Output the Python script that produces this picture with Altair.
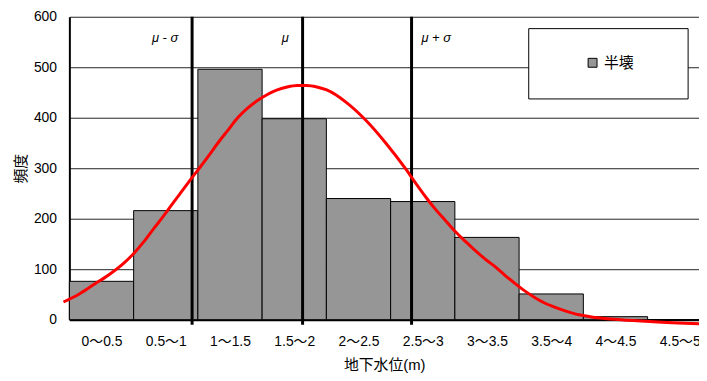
import altair as alt
import pandas as pd

# ---- data ----
bin_labels = ["0〜0.5", "0.5〜1", "1〜1.5", "1.5〜2", "2〜2.5",
              "2.5〜3", "3〜3.5", "3.5〜4", "4〜4.5", "4.5〜5"]
bin_start = [0.0, 0.5, 1.0, 1.5, 2.0, 2.5, 3.0, 3.5, 4.0, 4.5]
bin_end = [0.5, 1.0, 1.5, 2.0, 2.5, 3.0, 3.5, 4.0, 4.5, 5.0]
freq = [76, 216, 496, 398, 240, 234, 163, 51, 6, 0]

curve_x = [-0.046, 0.077, 0.193, 0.308, 0.424, 0.501, 0.578, 0.655, 0.732, 0.809,
           0.886, 0.950, 1.002, 1.079, 1.156, 1.233, 1.310, 1.387, 1.464, 1.541,
           1.618, 1.695, 1.772, 1.849, 1.926, 2.003, 2.157, 2.311, 2.465, 2.619,
           2.696, 2.773, 2.851, 2.928, 3.005, 3.082, 3.159, 3.236, 3.313, 3.390,
           3.467, 3.544, 3.621, 3.698, 3.775, 3.852, 3.929, 4.052, 4.291, 4.545,
           4.908]
curve_y = [35, 51, 70, 89, 112, 131, 154, 180, 205, 232,
           258, 280, 297, 323, 350, 375, 400, 419, 434, 446,
           455, 461, 464, 464, 461, 455, 430, 394, 349, 298,
           270, 243, 218, 196, 174, 155, 137, 120, 105, 88,
           72, 57, 44, 33, 25, 18, 12, 6, 0, -4,
           -8]

sigma_x = [0.955, 1.815, 2.663]
sigma_labels = ["μ - σ", "μ", "μ + σ"]
sigma_side = ["left", "left", "right"]

series_name = "半壊"
y_ticks = [0, 100, 200, 300, 400, 500, 600]

bars_df = pd.DataFrame({"start": bin_start, "end": bin_end, "freq": freq,
                        "series": [series_name] * len(freq)})
curve_df = pd.DataFrame({"x": curve_x, "y": curve_y})
sig_df = pd.DataFrame({"x": sigma_x, "label": sigma_labels, "side": sigma_side})

FONT = "Liberation Sans, Noto Sans CJK JP"
W, H = 636, 306
x_scale = alt.Scale(domain=[0, 4.9], nice=False, zero=False)
y_scale = alt.Scale(domain=[0, 600], nice=False)

label_expr = "[" + ",".join("'%s'" % s for s in bin_labels) + "][round(datum.value*2-0.5)]"
centers = [(a + b) / 2 for a, b in zip(bin_start, bin_end)]

x_axis = alt.Axis(values=centers, labelExpr=label_expr, title="地下水位(m)",
                  ticks=False, grid=False, domainColor="black", domainWidth=2,
                  labelFontSize=14, labelFont=FONT, labelColor="black",
                  labelPadding=15, labelFlush=False, labelOverlap=False, labelBound=False,
                  titleFont=FONT, titleFontSize=15, titleFontWeight="normal",
                  titleColor="black", titlePadding=9)
y_axis = alt.Axis(values=y_ticks, title="頻度", ticks=False, grid=True,
                  gridColor="#222222", gridWidth=1, domainColor="black", domainWidth=2,
                  labelFontSize=14, labelFont=FONT, labelColor="black", labelPadding=13,
                  titleFont=FONT, titleFontSize=15, titleFontWeight="normal",
                  titleColor="black", titlePadding=5)

bars = alt.Chart(bars_df).mark_rect(stroke="black", strokeWidth=1).encode(
    x=alt.X("start:Q", scale=x_scale, axis=x_axis),
    x2="end:Q",
    y=alt.Y("freq:Q", scale=y_scale, axis=y_axis),
    y2=alt.datum(0),
    color=alt.Color("series:N", scale=alt.Scale(range=["#969696"]),
                    legend=alt.Legend(title=None, orient="none", legendX=521, legendY=39,
                                      padding=0, symbolType="square", symbolSize=81,
                                      symbolStrokeColor="black", symbolStrokeWidth=1,
                                      labelOffset=4,
                                      labelFont=FONT, labelFontSize=15, labelColor="black")),
)

legend_box = alt.Chart(bars_df.head(1)).mark_rect(
    fill="white", stroke="black", strokeWidth=1).encode(
    x=alt.value(464), x2=alt.value(625), y=alt.value(12), y2=alt.value(83))

rules = alt.Chart(sig_df).mark_rule(color="black", strokeWidth=3).encode(
    x=alt.X("x:Q", scale=x_scale),
    y=alt.datum(600),
    y2=alt.datum(-10),
)

text_left = alt.Chart(sig_df).transform_filter("datum.side == 'left'").mark_text(
    align="right", baseline="middle", dx=-14, fontSize=13, fontStyle="italic",
    font=FONT, color="black").encode(
    x=alt.X("x:Q", scale=x_scale), y=alt.value(22), text="label:N")
text_right = alt.Chart(sig_df).transform_filter("datum.side == 'right'").mark_text(
    align="left", baseline="middle", dx=10, fontSize=13, fontStyle="italic",
    font=FONT, color="black").encode(
    x=alt.X("x:Q", scale=x_scale), y=alt.value(22), text="label:N")

curve = alt.Chart(curve_df).mark_line(color="#ff0000", strokeWidth=3,
                                      interpolate="monotone").encode(
    x=alt.X("x:Q", scale=x_scale),
    y=alt.Y("y:Q", scale=y_scale),
    order="x:Q",
)

chart = alt.layer(bars, legend_box, rules, text_left, text_right, curve).properties(
    width=W, height=H,
    autosize=alt.AutoSizeParams(type="none"),
    padding={"left": 62, "top": 7, "right": 0, "bottom": 52},
    background="white",
).configure_view(stroke=None)

chart.save("out.html", embed_options={"renderer": "svg", "actions": False})
